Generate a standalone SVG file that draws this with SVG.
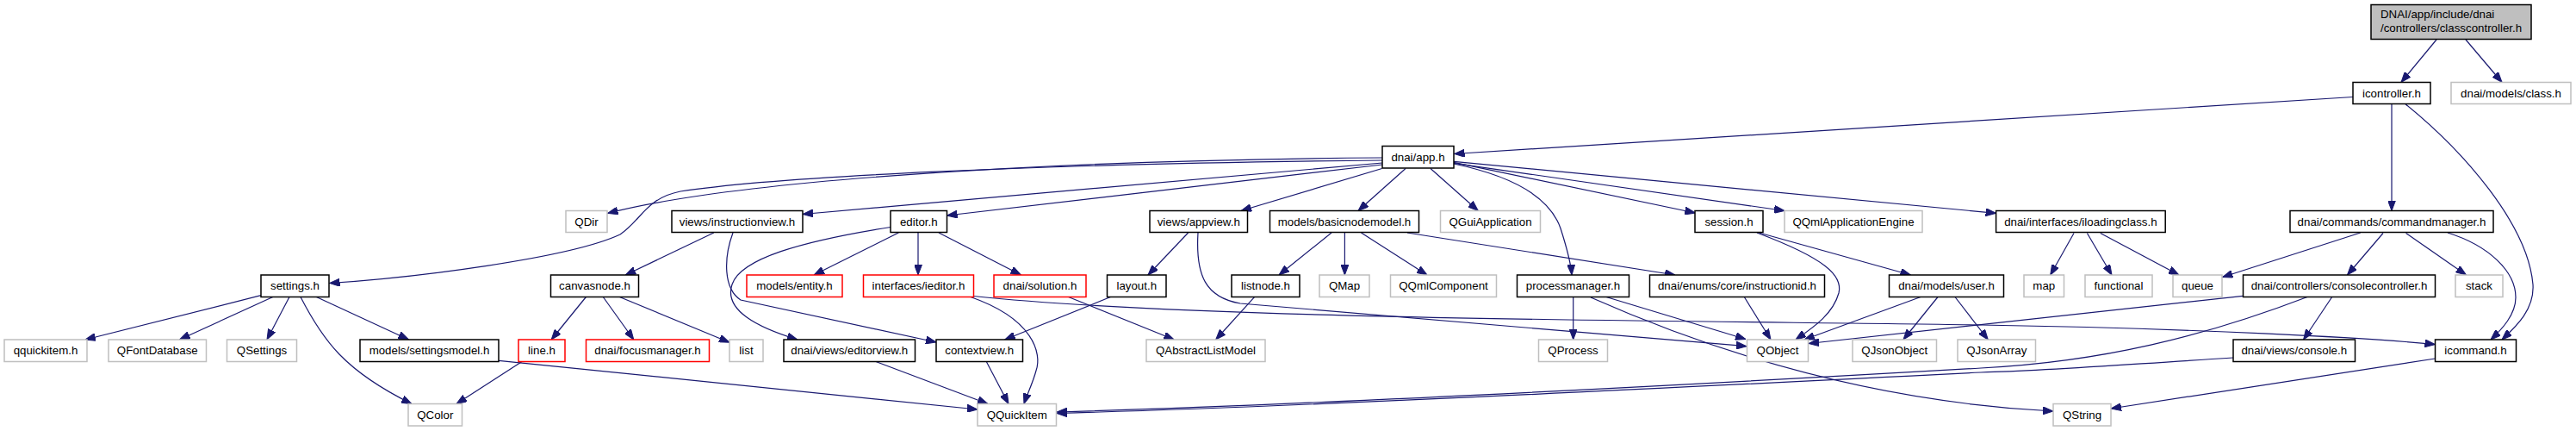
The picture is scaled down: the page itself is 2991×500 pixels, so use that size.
<svg xmlns="http://www.w3.org/2000/svg" width="2991" height="500" viewBox="0 0 2991 500">
<style>
.n rect{fill:#fff;stroke:#000;stroke-width:1.5}
.g rect{fill:#fff;stroke:#bfbfbf;stroke-width:1.5}
.r rect{fill:#fff;stroke:#ff0000;stroke-width:1.5}
.top rect{fill:#bfbfbf;stroke:#000;stroke-width:1.5}
text{font-family:"Liberation Sans",Arial,sans-serif;font-size:13.3px;fill:#000;text-anchor:middle}
.top text{text-anchor:start}
#edges path{fill:none;stroke:#191970;stroke-width:1.2;marker-end:url(#a)}
</style>
<defs>
<marker id="a" markerUnits="userSpaceOnUse" markerWidth="12" markerHeight="9" refX="12" refY="4.5" orient="auto">
<path d="M0,0 L12,4.5 L0,9 z" fill="#191970" stroke="#191970" stroke-width="1"/>
</marker>
</defs>
<rect width="2991" height="500" fill="#fff"/>
<g id="edges">
<path d="M2829,46 L2788,95.5"/>
<path d="M2863,46 L2905,95.5"/>
<path d="M2732,112.5 L1688.5,178.5"/>
<path d="M2777,120.5 L2777,244.5"/>
<path d="M2793,120.7 C2860,175 2935,260 2941,330 C2943,360 2920,380 2905,394"/>
<path d="M2842,270 C2890,285 2921,315 2921,345 C2921,365 2905,382 2892,394"/>
<path d="M2740.7,270 L2580.5,321.5"/>
<path d="M2767,270.5 L2725.5,319"/>
<path d="M2793.6,270.5 L2863.5,319"/>
<path d="M2408,270.5 L2380.7,319"/>
<path d="M2423.4,270.5 L2452,319"/>
<path d="M2438.8,270.5 L2530,319"/>
<path d="M2604.5,343.3 L2100,398.5"/>
<path d="M2679,344.5 C2560,390 2440,420 2300,427 C1900,450 1500,470 1227,478"/>
<path d="M2593,415 C2450,424 2380,430 2300,432 C1900,452 1500,472 1227,479.5"/>
<path d="M2707.7,344.5 L2674.6,394"/>
<path d="M2827.5,416 L2451,474"/>
<path d="M1847,345 C1960,395 2150,465 2384,477"/>
<path d="M1826.7,344.5 L1826.7,394"/>
<path d="M1865,344.5 L2027,393.5"/>
<path d="M1391,270 C1388,320 1400,345 1440,352 L2028,401.7"/>
<path d="M1130,343.5 C1400,372 2000,372 2300,377 C2550,381 2750,392 2827.5,399.5"/>
<path d="M1127,344.5 C1200,370 1210,410 1203,430 C1199,445 1193,456 1189,468.5"/>
<path d="M1145.3,419.5 L1171,468.5"/>
<path d="M1017,419.5 L1147,468.5"/>
<path d="M579,418.3 L1135,475"/>
<path d="M606,419.5 L530,468.5"/>
<path d="M303,342.7 L99,394"/>
<path d="M316.8,344.5 L208.5,394"/>
<path d="M336,344.5 L310,394"/>
<path d="M349,344.5 C375,395 400,430 478,468.5"/>
<path d="M367.4,344.5 L474.5,394"/>
<path d="M1605,186 C1200,190 900,205 790,222 C750,230 745,255 720,272 C660,300 480,322 382.5,328.5"/>
<path d="M1605,183 C1200,186 850,210 705.5,247.5"/>
<path d="M1605,189 L932,248.5"/>
<path d="M1605,191 L1099.5,250"/>
<path d="M1604.6,195.5 L1441,244.5"/>
<path d="M1632,195.5 L1577,244.5"/>
<path d="M1661,195.5 L1716.3,244.5"/>
<path d="M1688,190 C1760,205 1800,230 1812,265 C1820,290 1824,305 1825,319"/>
<path d="M1688,188.3 L1968.3,247"/>
<path d="M1688,189.3 L2072,244.5"/>
<path d="M1688,187.3 L2317.6,247.3"/>
<path d="M1546,270 L1485,319"/>
<path d="M1561.4,270 L1561.4,319"/>
<path d="M1580.5,270 L1657,319"/>
<path d="M1634,270 L1945,319"/>
<path d="M1379.6,270 L1333,319"/>
<path d="M1290,344.3 L1166.7,394"/>
<path d="M1240,344.3 L1363.3,394"/>
<path d="M1456.7,344.3 L1411.7,394"/>
<path d="M1043.3,270 L945,319"/>
<path d="M1066,270 L1066,319"/>
<path d="M1090,270 L1185.5,319"/>
<path d="M1034,263.5 C930,280 860,300 850,330 C840,360 880,380 926,394"/>
<path d="M851,270 C840,300 840,335 860,348 L1087,397"/>
<path d="M828.8,270 L726.3,319"/>
<path d="M680.4,344.5 L640.2,394"/>
<path d="M700.3,344.5 L735.8,394"/>
<path d="M719.4,344.5 L847,397.3"/>
<path d="M2040,270 C2120,300 2140,320 2135,340 C2128,365 2105,380 2085,394"/>
<path d="M2042.5,270 L2218.5,319"/>
<path d="M2025.3,344.5 L2056,394"/>
<path d="M2230,344.5 L2095,394"/>
<path d="M2250,344.5 L2210,394"/>
<path d="M2270,344.5 L2308.3,394"/>
</g>
<g id="classcontroller" class="top"><rect x="2753" y="5.5" width="186" height="40"/><text x="2764" y="21">DNAI/app/include/dnai</text><text x="2764" y="36.5">/controllers/classcontroller.h</text></g>
<g id="icontroller" class="n"><rect x="2732" y="95.5" width="90" height="25"/><text x="2777" y="112.5">icontroller.h</text></g>
<g id="class" class="g"><rect x="2846" y="95.5" width="139" height="25"/><text x="2915.5" y="112.5">dnai/models/class.h</text></g>
<g id="app" class="n"><rect x="1605" y="169.5" width="83" height="25.5"/><text x="1646.5" y="186.5">dnai/app.h</text></g>
<g id="qdir" class="g"><rect x="657" y="244.5" width="48" height="25"/><text x="681" y="261.5">QDir</text></g>
<g id="instructionview" class="n"><rect x="780" y="244.5" width="152" height="25"/><text x="856" y="261.5">views/instructionview.h</text></g>
<g id="editor" class="n"><rect x="1034" y="244.5" width="65.5" height="25"/><text x="1066.75" y="261.5">editor.h</text></g>
<g id="appview" class="n"><rect x="1335" y="244.5" width="113.5" height="25"/><text x="1391.75" y="261.5">views/appview.h</text></g>
<g id="basicnodemodel" class="n"><rect x="1474.5" y="244.5" width="173" height="25"/><text x="1561" y="261.5">models/basicnodemodel.h</text></g>
<g id="qguiapplication" class="g"><rect x="1672.5" y="244.5" width="116" height="25"/><text x="1730.5" y="261.5">QGuiApplication</text></g>
<g id="session" class="n"><rect x="1968" y="244.5" width="79" height="25"/><text x="2007.5" y="261.5">session.h</text></g>
<g id="qqmlapplicationengine" class="g"><rect x="2072" y="244.5" width="160" height="25"/><text x="2152" y="261.5">QQmlApplicationEngine</text></g>
<g id="iloadingclass" class="n"><rect x="2317.6" y="244.5" width="196.6" height="25"/><text x="2415.9" y="261.5">dnai/interfaces/iloadingclass.h</text></g>
<g id="commandmanager" class="n"><rect x="2659" y="244.5" width="236" height="25"/><text x="2777" y="261.5">dnai/commands/commandmanager.h</text></g>
<g id="settings" class="n"><rect x="303" y="319" width="79" height="25.5"/><text x="342.5" y="336">settings.h</text></g>
<g id="canvasnode" class="n"><rect x="639.5" y="319" width="102" height="25.5"/><text x="690.5" y="336">canvasnode.h</text></g>
<g id="entity" class="r"><rect x="867" y="319" width="111" height="25.5"/><text x="922.5" y="336">models/entity.h</text></g>
<g id="ieditor" class="r"><rect x="1002.5" y="319" width="128" height="25.5"/><text x="1066.5" y="336">interfaces/ieditor.h</text></g>
<g id="solution" class="r"><rect x="1154" y="319" width="107" height="25.5"/><text x="1207.5" y="336">dnai/solution.h</text></g>
<g id="layout" class="n"><rect x="1285.5" y="319" width="68.5" height="25.5"/><text x="1319.75" y="336">layout.h</text></g>
<g id="listnode" class="n"><rect x="1430" y="319" width="79" height="25.5"/><text x="1469.5" y="336">listnode.h</text></g>
<g id="qmap" class="g"><rect x="1532" y="319" width="58" height="25.5"/><text x="1561" y="336">QMap</text></g>
<g id="qqmlcomponent" class="g"><rect x="1614.5" y="319" width="123" height="25.5"/><text x="1676" y="336">QQmlComponent</text></g>
<g id="processmanager" class="n"><rect x="1761.5" y="319" width="130" height="25.5"/><text x="1826.5" y="336">processmanager.h</text></g>
<g id="instructionid" class="n"><rect x="1915.5" y="319" width="203" height="25.5"/><text x="2017" y="336">dnai/enums/core/instructionid.h</text></g>
<g id="user" class="n"><rect x="2193.5" y="319" width="133" height="25.5"/><text x="2260" y="336">dnai/models/user.h</text></g>
<g id="map" class="g"><rect x="2350" y="319" width="46.5" height="25.5"/><text x="2373.25" y="336">map</text></g>
<g id="functional" class="g"><rect x="2421" y="319" width="78" height="25.5"/><text x="2460" y="336">functional</text></g>
<g id="queue" class="g"><rect x="2523" y="319" width="57" height="25.5"/><text x="2551.5" y="336">queue</text></g>
<g id="consolecontroller" class="n"><rect x="2604.5" y="319" width="223" height="25.5"/><text x="2716" y="336">dnai/controllers/consolecontroller.h</text></g>
<g id="stack" class="g"><rect x="2851" y="319" width="55" height="25.5"/><text x="2878.5" y="336">stack</text></g>
<g id="qquickitem_h" class="g"><rect x="5" y="394" width="96" height="25.5"/><text x="53" y="411">qquickitem.h</text></g>
<g id="qfontdatabase" class="g"><rect x="126" y="394" width="113.5" height="25.5"/><text x="182.75" y="411">QFontDatabase</text></g>
<g id="qsettings" class="g"><rect x="263.5" y="394" width="81" height="25.5"/><text x="304" y="411">QSettings</text></g>
<g id="settingsmodel" class="n"><rect x="418" y="394" width="161" height="25.5"/><text x="498.5" y="411">models/settingsmodel.h</text></g>
<g id="line" class="r"><rect x="602" y="394" width="54" height="25.5"/><text x="629" y="411">line.h</text></g>
<g id="focusmanager" class="r"><rect x="680.5" y="394" width="143" height="25.5"/><text x="752" y="411">dnai/focusmanager.h</text></g>
<g id="list" class="g"><rect x="847" y="394" width="39" height="25.5"/><text x="866.5" y="411">list</text></g>
<g id="editorview" class="n"><rect x="910" y="394" width="152.5" height="25.5"/><text x="986.25" y="411">dnai/views/editorview.h</text></g>
<g id="contextview" class="n"><rect x="1087" y="394" width="100.5" height="25.5"/><text x="1137.25" y="411">contextview.h</text></g>
<g id="qabstractlistmodel" class="g"><rect x="1331" y="394" width="138" height="25.5"/><text x="1400" y="411">QAbstractListModel</text></g>
<g id="qprocess" class="g"><rect x="1786.5" y="394" width="80" height="25.5"/><text x="1826.5" y="411">QProcess</text></g>
<g id="qobject" class="g"><rect x="2028.5" y="394" width="71" height="25.5"/><text x="2064" y="411">QObject</text></g>
<g id="qjsonobject" class="g"><rect x="2151" y="394" width="97.5" height="25.5"/><text x="2199.75" y="411">QJsonObject</text></g>
<g id="qjsonarray" class="g"><rect x="2273" y="394" width="90.5" height="25.5"/><text x="2318.25" y="411">QJsonArray</text></g>
<g id="console" class="n"><rect x="2593" y="394" width="141.5" height="25.5"/><text x="2663.75" y="411">dnai/views/console.h</text></g>
<g id="icommand" class="n"><rect x="2827.5" y="394" width="94" height="25.5"/><text x="2874.5" y="411">icommand.h</text></g>
<g id="qcolor" class="g"><rect x="474" y="468.5" width="62.5" height="25.5"/><text x="505.25" y="485.5">QColor</text></g>
<g id="qquickitem" class="g"><rect x="1135" y="468.5" width="91.5" height="25.5"/><text x="1180.75" y="485.5">QQuickItem</text></g>
<g id="qstring" class="g"><rect x="2384" y="468.5" width="67" height="25.5"/><text x="2417.5" y="485.5">QString</text></g>
</svg>
